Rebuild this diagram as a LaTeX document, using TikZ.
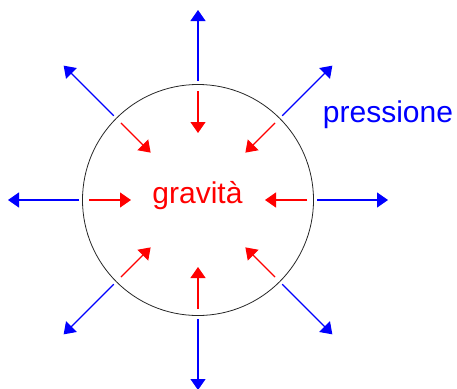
\documentclass[tikz,border=0pt]{standalone}
\usepackage{fontspec}
\setmainfont{Liberation Sans}
\usetikzlibrary{arrows.meta,calc}

\begin{document}
\begin{tikzpicture}[x=1pt, y=-1pt, >={Triangle[length=11pt, width=15pt]}]
\tikzset{
  ball/.style={draw=black!85, line width=0.8pt, circle, minimum size=231pt, inner sep=0pt},
  push/.style={->, draw=blue, fill=blue, line width=1.1pt},
  pull/.style={->, draw=red, fill=red, line width=1.1pt},
  word/.style={font=\fontsize{30}{36}\selectfont, anchor=base, inner sep=0pt},
}
\useasboundingbox (0,0) rectangle (457,388);

% Star
\node (body) [ball] at (198,200) {};

% Pressure outward, gravity inward
\foreach \a in {0,45,...,315}{
  \coordinate (p\a) at ($(body.center)!119pt!(body.\a)$);
  \coordinate (q\a) at ($(body.center)!190pt!(body.\a)$);
  \coordinate (g\a) at ($(body.center)!109pt!(body.\a)$);
  \coordinate (h\a) at ($(body.center)!67pt!(body.\a)$);
  \draw[push] (p\a) -- (q\a);
  \draw[pull] (g\a) -- (h\a);
}

% Labels
\node (grav) [word, text=red] at (197.5,203) {gravità};
\node (pres) [word, text=blue] at (388,122) {pressione};

\end{tikzpicture}
\end{document}
